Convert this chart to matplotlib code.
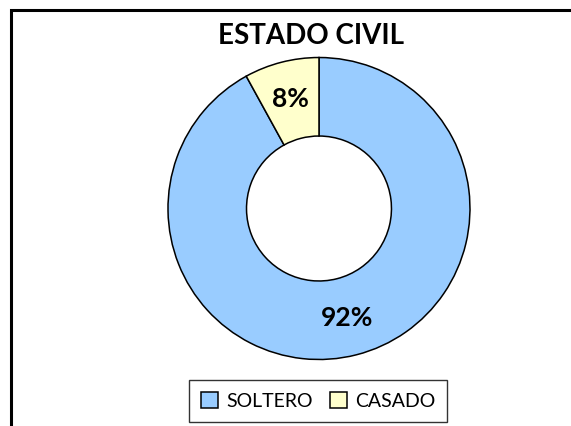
import matplotlib
matplotlib.use("Agg")
import matplotlib.pyplot as plt
from matplotlib.patches import Rectangle

categories = ["SOLTERO", "CASADO"]
values = [92, 8]
colors = ["#99CCFF", "#FFFFCC"]

plt.rcParams['font.family'] = ['Lato', 'DejaVu Sans']

fig = plt.figure(figsize=(5.71, 4.26), dpi=100)

# marco del grafico (solo se ven los bordes superior e izquierdo)
fig.patches.append(Rectangle((10.5 / 571, -0.1), 1.2, 1 - 9.5 / 426 + 0.1,
                             transform=fig.transFigure, fill=False,
                             edgecolor="black", linewidth=2.2))

ax = fig.add_axes([0.2942, 0.1561, 0.5289, 0.7089])
wedges, texts, autotexts = ax.pie(
    values, colors=colors, startangle=90, counterclock=False,
    radius=1, autopct='%1.0f%%', pctdistance=0.75,
    wedgeprops=dict(width=0.52, edgecolor="black", linewidth=1.1),
    textprops=dict(fontsize=19, fontweight="bold", color="black"))
ax.set_xlim(-1, 1)
ax.set_ylim(-1, 1)
ax.set_aspect('equal')
ax.axis('off')

fig.text(311.5 / 571, 1 - 36 / 426, "ESTADO CIVIL", ha="center", va="center",
         fontsize=20, fontweight="bold")

leg = fig.legend(wedges, categories, loc="center", ncol=2,
                 bbox_to_anchor=(318 / 571, 1 - 401 / 426),
                 fontsize=14, frameon=True, fancybox=False, edgecolor="black",
                 handlelength=0.9, handleheight=0.9, handletextpad=0.4,
                 columnspacing=0.9, borderpad=0.6)
leg.get_frame().set_linewidth(1.0)

fig.savefig("out.png", dpi=100)
